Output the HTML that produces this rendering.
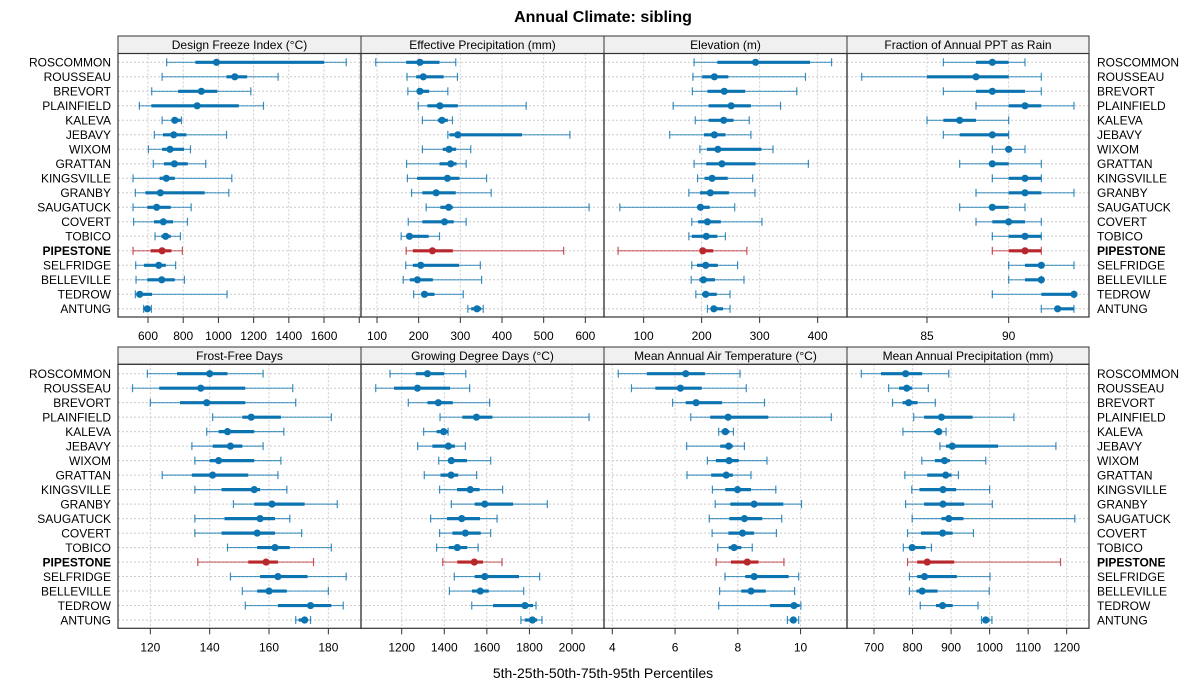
<!DOCTYPE html>
<html><head><meta charset="utf-8"><style>
body{margin:0;background:#fff;}
svg{display:block;font-family:"Liberation Sans",sans-serif;}
</style></head><body>
<svg id="chart" width="1200" height="700" viewBox="0 0 1200 700" xmlns="http://www.w3.org/2000/svg">
<rect x="0" y="0" width="1200" height="700" fill="#fff"/>
<text x="603" y="22" text-anchor="middle" font-size="16" font-weight="bold">Annual Climate: sibling</text>
<text x="603" y="678" text-anchor="middle" font-size="14">5th-25th-50th-75th-95th Percentiles</text>
<g id="panels"></g>
</svg>
<script>
const categories = ["ROSCOMMON","ROUSSEAU","BREVORT","PLAINFIELD","KALEVA","JEBAVY","WIXOM","GRATTAN","KINGSVILLE","GRANBY","SAUGATUCK","COVERT","TOBICO","PIPESTONE","SELFRIDGE","BELLEVILLE","TEDROW","ANTUNG"];
const highlight = "PIPESTONE";
const panelTitles = ["Design Freeze Index (\u00b0C)","Effective Precipitation (mm)","Elevation (m)","Fraction of Annual PPT as Rain","Frost-Free Days","Growing Degree Days (\u00b0C)","Mean Annual Air Temperature (\u00b0C)","Mean Annual Precipitation (mm)"];
const freezeIndex = [[706,869,989,1601,1726],[680,1046,1093,1163,1339],[621,771,903,994,1184],[551,619,879,1116,1256],[680,733,752,786,790],[636,685,746,818,1046],[602,680,725,805,841],[630,691,750,826,928],[515,666,704,752,1076],[528,585,670,922,1059],[515,596,649,729,845],[518,634,687,742,824],[640,676,700,729,784],[515,615,680,733,795],[530,577,661,701,757],[532,596,678,752,807],[528,534,553,623,1049],[575,585,596,609,619]];
const effPrecip = [[97,170,203,250,289],[172,194,211,260,293],[174,198,203,225,270],[199,221,251,294,458],[209,246,256,270,281],[270,274,294,448,563],[209,258,273,290,325],[171,250,277,291,314],[173,196,269,298,363],[183,209,242,289,374],[218,252,272,282,609],[175,209,262,284,314],[158,172,178,224,250],[170,186,233,282,548],[169,186,205,297,348],[163,179,197,234,351],[188,208,214,238,307],[318,326,340,350,355]];
const elevation = [[187,227,293,387,424],[185,201,222,246,379],[184,210,239,275,364],[151,212,251,285,336],[189,212,238,255,282],[145,204,222,241,285],[197,209,228,303,323],[187,208,235,293,384],[193,205,218,245,288],[178,197,215,247,292],[59,194,198,214,257],[183,194,210,233,304],[178,183,208,227,241],[56,198,202,220,278],[183,192,207,228,262],[182,196,203,223,273],[190,201,207,226,249],[210,216,221,237,249]];
const rainFraction = [[86,88,89,90,91],[81,85,88,90,92],[86,88,89,91,92],[88,90,91,92,94],[85,86,87,88,90],[86,87,89,90,90],[89,90,90,90,91],[87,89,89,90,92],[89,90,91,92,92],[88,90,91,92,94],[87,89,89,90,91],[88,89,90,91,92],[89,90,91,92,92],[89,90,91,92,92],[90,91,92,92,94],[90,91,92,92,92],[89,92,94,94,94],[92,93,93,94,94]];
const frostFree = [[119,129,140,146,158],[114,123,137,152,168],[120,130,139,152,169],[141,151,154,164,181],[139,143,146,155,165],[134,141,147,151,158],[135,140,143,155,164],[124,134,141,153,163],[135,144,155,157,166],[148,155,161,172,183],[135,145,157,162,167],[135,144,156,162,171],[146,156,162,167,181],[136,153,159,163,175],[147,157,163,173,186],[151,156,160,166,180],[152,163,174,181,185],[169,170,172,173,174]];
const gdd = [[1145,1266,1321,1400,1501],[1078,1164,1274,1427,1519],[1231,1321,1372,1440,1613],[1380,1485,1551,1626,2080],[1303,1364,1397,1418,1418],[1275,1344,1419,1450,1499],[1374,1419,1433,1507,1618],[1306,1382,1432,1465,1552],[1378,1460,1522,1566,1674],[1433,1543,1590,1723,1884],[1336,1413,1482,1568,1648],[1378,1438,1499,1571,1618],[1364,1421,1461,1508,1559],[1393,1461,1541,1582,1671],[1447,1543,1590,1751,1848],[1424,1530,1569,1609,1773],[1529,1629,1779,1817,1831],[1760,1778,1814,1836,1859]];
const maat = [[4.19,5.10,6.34,6.95,8.07],[4.61,5.37,6.17,6.85,8.27],[5.92,6.34,6.67,7.50,8.85],[6.50,7.12,7.69,8.97,10.98],[7.39,7.48,7.60,7.73,7.86],[6.37,7.44,7.71,7.84,8.21],[7.03,7.30,7.72,8.03,8.93],[6.38,7.15,7.63,7.84,8.42],[7.19,7.60,7.99,8.42,9.21],[7.28,7.76,8.52,9.45,10.03],[7.09,7.73,8.21,8.78,9.40],[7.18,7.70,8.15,8.52,9.23],[7.36,7.71,7.88,8.11,8.46],[7.31,7.78,8.30,8.66,9.47],[7.59,8.24,8.52,9.62,9.94],[7.42,8.11,8.42,8.89,9.81],[7.39,9.03,9.79,9.97,10.01],[9.58,9.68,9.77,9.85,9.94]];
const map = [[667,718,782,825,894],[738,765,785,799,841],[748,774,790,813,859],[803,830,875,956,1063],[775,856,868,874,887],[871,887,903,1022,1172],[824,858,883,897,990],[780,838,886,901,919],[798,818,879,913,1000],[782,830,879,934,1007],[799,875,894,932,1221],[787,822,878,904,958],[776,791,799,834,849],[787,812,838,908,1184],[792,812,831,915,1001],[792,810,825,865,999],[820,861,878,904,970],[979,983,990,1000,1006]];
const seriesList = [freezeIndex,effPrecip,elevation,rainFraction,frostFree,gdd,maat,map];
const xDomains = [[429.5,1810],[61.6,644.8],[31.7,450.6],[80.1,94.92],[109.1,191.0],[1008.8,2150.3],[3.735,11.48],[629.9,1257.9]];
const tickValues = [[600,800,1000,1200,1400,1600,1800],[100,200,300,400,500,600],[100,200,300,400],[85,90],[120,140,160,180],[1200,1400,1600,1800,2000],[4,6,8,10],[700,800,900,1000,1100,1200]];
const tickLabels = [["600","800","1000","1200","1400","1600",""],["100","200","300","400","500","600"],["100","200","300","400"],["85","90"],["120","140","160","180"],["1200","1400","1600","1800","2000"],["4","6","8","10"],["700","800","900","1000","1100","1200"]];

const NS="http://www.w3.org/2000/svg";
const root=document.getElementById('panels');
const colX=[118,361,604,847,1089];
const rows=[{stripTop:36,top:53.5,bottom:317,firstY:62.3,step:14.5},{stripTop:347,top:364.3,bottom:628.3,firstY:373.7,step:14.49}];
function el(tag,attrs,parent){const e=document.createElementNS(NS,tag);for(const k in attrs)e.setAttribute(k,attrs[k]);(parent||root).appendChild(e);return e;}

for(let p=0;p<8;p++){
  const r=rows[Math.floor(p/4)], c=p%4;
  const x0=colX[c], x1=colX[c+1];
  const dom=xDomains[p];
  const sx=v=>x0+(v-dom[0])/(dom[1]-dom[0])*(x1-x0);
  const sy=i=>r.firstY+i*r.step;
  const g=el('g',{});
  
  
  const strip=el('rect',{x:x0,y:r.stripTop,width:x1-x0,height:r.top-r.stripTop,fill:'#f0f0f0',stroke:'#333','stroke-width':1},g);
  
  
  const st=el('text',{x:(x0+x1)/2,y:r.top-4.5,'text-anchor':'middle','font-size':12,fill:'#000'},g);
  st.textContent=panelTitles[p];
  
  
  tickValues[p].forEach((t,k)=>{
    const x=sx(t);
    if(x>x0+1&&x<x1-1) el('line',{x1:x,x2:x,y1:r.top,y2:r.bottom,stroke:'#ccc','stroke-dasharray':'2,2','stroke-width':1},g);
    const tk=el('line',{x1:x,x2:x,y1:r.bottom,y2:r.bottom+6,stroke:'#333','stroke-width':1},g);
    
    
    const tl=el('text',{x:x,y:r.bottom+23,'text-anchor':'middle','font-size':12,fill:'#000'},g);
    tl.textContent=tickLabels[p][k];
    
    
  });
  categories.forEach((cat,i)=>{
    el('line',{x1:x0,x2:x1,y1:sy(i),y2:sy(i),stroke:'#ccc','stroke-dasharray':'2,2','stroke-width':1},g);
  });
  const data=seriesList[p];
  categories.forEach((cat,i)=>{
    const d=data[i], y=sy(i);
    const col=cat===highlight?'#b8272c':'#0b73b0';
    const mg=el('g',{},g);
    
    
    el('line',{x1:sx(d[0]),x2:sx(d[4]),y1:y,y2:y,stroke:col,'stroke-width':1.2,opacity:0.7},mg);
    el('line',{x1:sx(d[0]),x2:sx(d[0]),y1:y-4,y2:y+4,stroke:col,'stroke-width':1.2,opacity:0.8},mg);
    el('line',{x1:sx(d[4]),x2:sx(d[4]),y1:y-4,y2:y+4,stroke:col,'stroke-width':1.2,opacity:0.8},mg);
    el('line',{x1:sx(d[1]),x2:sx(d[3]),y1:y,y2:y,stroke:col,'stroke-width':3.2},mg);
    el('circle',{cx:sx(d[2]),cy:y,r:3.6,fill:col},mg);
  });
  const bd=el('rect',{x:x0,y:r.top,width:x1-x0,height:r.bottom-r.top,fill:'none',stroke:'#333','stroke-width':1.2},g);
  
  
}
rows.forEach((r,ri)=>{
  categories.forEach((cat,i)=>{
    const y=r.firstY+i*r.step+4.3;
    const bold=cat===highlight?'bold':'normal';
    const a=el('text',{x:111,y:y,'text-anchor':'end','font-size':12,'font-weight':bold,fill:'#000'});
    a.textContent=cat;
    
    
    const b=el('text',{x:1097,y:y,'text-anchor':'start','font-size':12,'font-weight':bold,fill:'#000'});
    b.textContent=cat;
    
    
  });
});
</script>
</body></html>
